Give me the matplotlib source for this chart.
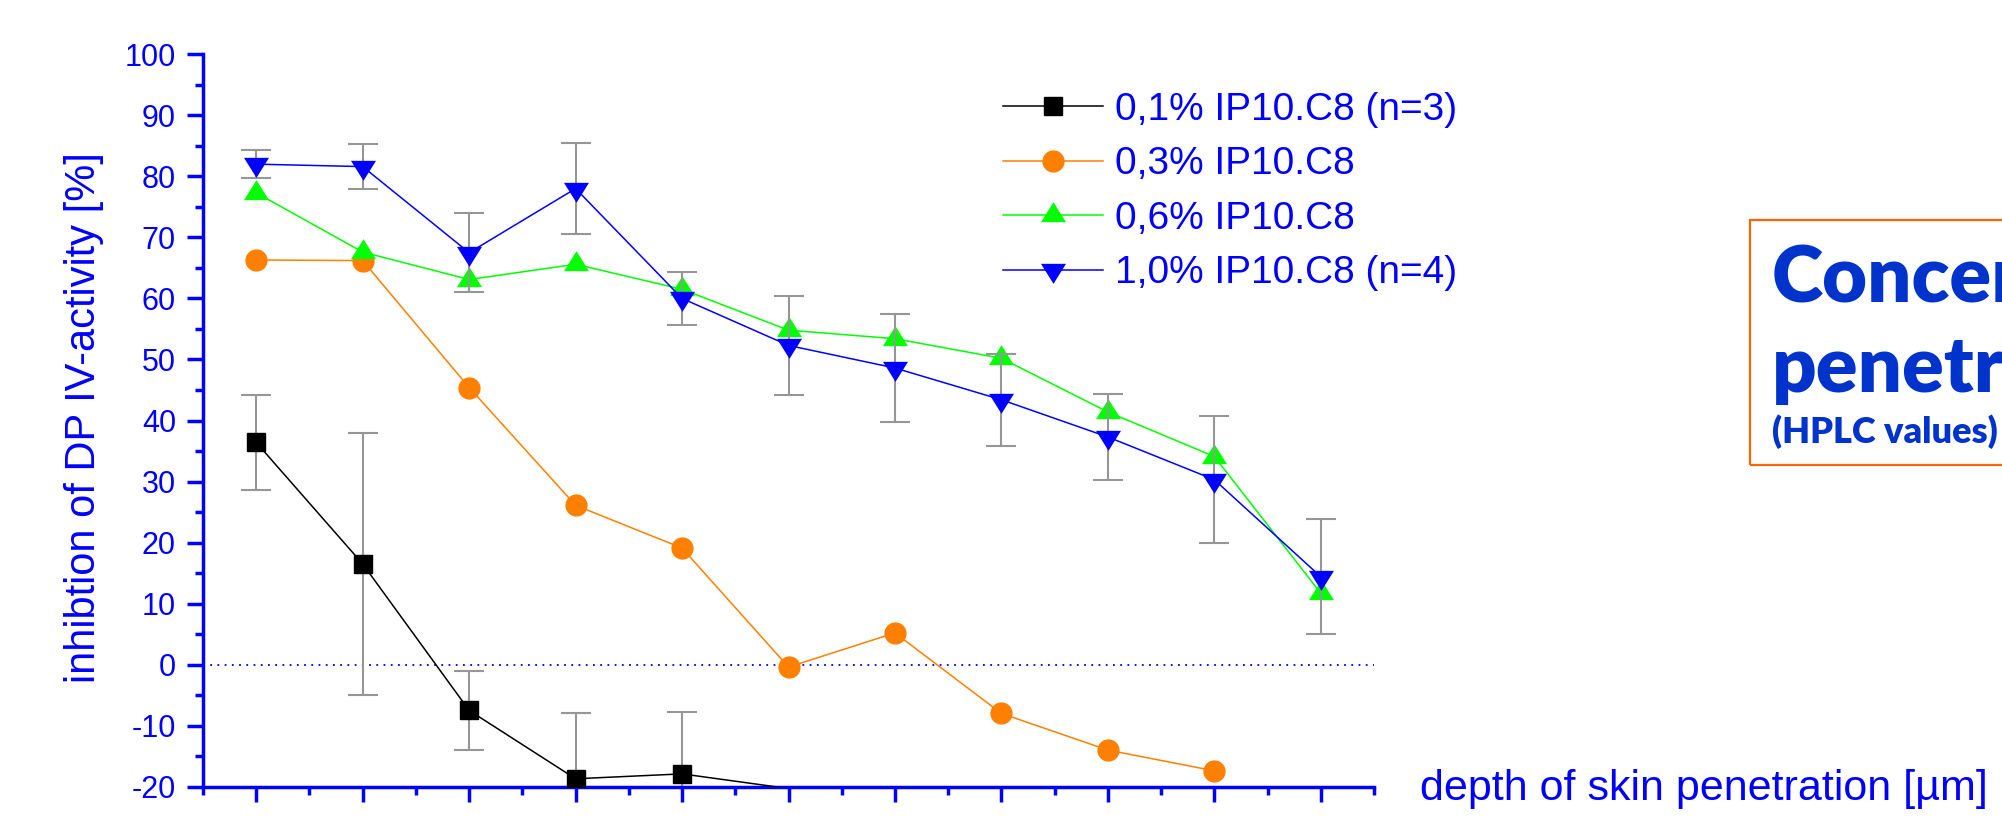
import numpy as np
import matplotlib
matplotlib.use("Agg")
import matplotlib.pyplot as plt
from matplotlib.patches import Rectangle

plt.rcParams['font.family'] = ['Liberation Sans', 'DejaVu Sans']
plt.rcParams['axes.unicode_minus'] = False

# depth steps (positions along the x axis, no numeric labels shown)
depth_steps = [1, 2, 3, 4, 5, 6, 7, 8, 9, 10, 11]

# 0,1% IP10.C8 (n=3), mean and SD
conc_01 = [36.4, 16.5, -7.5, -18.7, -17.9, -20.3]
conc_01_sd = [7.8, 21.5, 6.5, 10.8, 10.1, np.nan]

# 0,3% IP10.C8
conc_03 = [66.3, 66.2, 45.4, 26.1, 19.1, -0.4, 5.2, -8.0, -14.0, -17.4]

# 0,6% IP10.C8
conc_06 = [77.3, 67.6, 63.1, 65.6, 61.5, 54.8, 53.4, 50.2, 41.4, 34.1, 11.7]

# 1,0% IP10.C8 (n=4), mean and SD
conc_10 = [82.0, 81.6, 67.5, 78.0, 60.0, 52.3, 48.6, 43.4, 37.3, 30.3, 14.4]
conc_10_sd = [2.3, 3.7, 6.5, 7.5, 4.4, 8.1, 8.9, 7.5, 7.1, 10.4, 9.4]

labels = ["0,1% IP10.C8 (n=3)", "0,3% IP10.C8", "0,6% IP10.C8", "1,0% IP10.C8 (n=4)"]

BLUE = '#0000FF'
ORANGE = '#FF8000'
GREEN = '#00FF00'
ERR = '#969696'

# triangles centred on their centroid
tri_down = [(-12.5, 6.67), (12.5, 6.67), (0, -13.33), (-12.5, 6.67)]
tri_up = [(-12.5, -6.67), (12.5, -6.67), (0, 13.33), (-12.5, -6.67)]

W, H = 2002, 827
fig = plt.figure(figsize=(W / 100, H / 100), dpi=100)
ax = fig.add_axes([203 / W, 40.3 / H, (1374 - 203) / W, 732.4 / H])

ax.set_xlim(0.5, 11.5)
ax.set_ylim(-20, 100)

ax.axhline(0, color=BLUE, lw=1.3, linestyle=(0, (1, 3)), zorder=1)

n01 = len(conc_01)
x01 = depth_steps[:n01]
visible01 = [i for i, v in enumerate(conc_01) if v >= -20]
ax.errorbar(x01, conc_01, yerr=conc_01_sd, fmt='none', ecolor=ERR,
            elinewidth=1.5, capsize=11, capthick=1.5, zorder=2)
h1, = ax.plot(x01, conc_01, color='black', lw=1.1, marker='s', ms=12.6,
              markevery=visible01, mec='black', mfc='black', zorder=3)

h2, = ax.plot(depth_steps[:len(conc_03)], conc_03, color=ORANGE, lw=1.1,
              marker='o', ms=15, mec=ORANGE, mfc=ORANGE, zorder=4)

h3, = ax.plot(depth_steps, conc_06, color=GREEN, lw=1.1, marker=tri_up,
              ms=19.2, mec='none', mfc=GREEN, zorder=5)

ax.errorbar(depth_steps, conc_10, yerr=conc_10_sd, fmt='none', ecolor=ERR,
            elinewidth=1.5, capsize=11, capthick=1.5, zorder=5.5)
h4, = ax.plot(depth_steps, conc_10, color=BLUE, lw=1.1, marker=tri_down,
              ms=19.2, mec='none', mfc=BLUE, zorder=6)

# axes styling
for s in ('top', 'right'):
    ax.spines[s].set_visible(False)
for s in ('left', 'bottom'):
    ax.spines[s].set_color(BLUE)
    ax.spines[s].set_linewidth(2.5)

ax.set_yticks(np.arange(-20, 101, 10))
ax.set_yticks(np.arange(-20, 101, 5), minor=True)
ax.set_xticks(depth_steps)
ax.set_xticks(np.arange(0.5, 11.6, 1.0), minor=True)
ax.tick_params(axis='y', which='major', direction='out', length=11.5, width=2.5,
               color=BLUE, labelcolor=BLUE, labelsize=22, pad=8.0)
ax.tick_params(axis='y', which='minor', direction='out', length=5.8, width=2.5, color=BLUE)
ax.tick_params(axis='x', which='major', direction='out', length=11, width=2.5,
               color=BLUE, labelbottom=False)
ax.tick_params(axis='x', which='minor', direction='out', length=5.8, width=2.5, color=BLUE)

fig.text(84 / W, 1 - 418 / H, "inhibtion of DP IV-activity [%]", rotation=90,
         ha='center', va='center', color=BLUE, fontsize=30)
fig.text(1420 / W, 1 - 800 / H, "depth of skin penetration [µm]", ha='left',
         va='baseline', color=BLUE, fontsize=31)

leg = ax.legend([h1, h2, h3, h4], labels, loc='upper left',
                bbox_to_anchor=(1003 / W, 1 - 92 / H), bbox_transform=fig.transFigure,
                frameon=False, fontsize=28, handlelength=2.57, handletextpad=0.31,
                labelspacing=0.475, borderpad=0, borderaxespad=0, numpoints=1,
                labelcolor=BLUE)

# framed note on the right
fig.patches.append(Rectangle((1750 / W, 1 - 465 / H), 300 / W, 245 / H,
                             transform=fig.transFigure, fill=False,
                             edgecolor='#FF6600', lw=1.6))
NOTE = '#0033CC'
fig.text(1772 / W, 1 - 302 / H, "Concentration-dependent", ha='left', va='baseline',
         color=NOTE, fontsize=56, fontweight='heavy', family=['Lato', 'DejaVu Sans'])
fig.text(1772 / W, 1 - 392 / H, "penetration", ha='left', va='baseline',
         color=NOTE, fontsize=56, fontweight='heavy', family=['Lato', 'DejaVu Sans'])
fig.text(1772 / W, 1 - 443 / H, "(HPLC values)", ha='left', va='baseline',
         color=NOTE, fontsize=26, fontweight='heavy', family=['Lato', 'DejaVu Sans'])

fig.savefig("out.png", dpi=100)
